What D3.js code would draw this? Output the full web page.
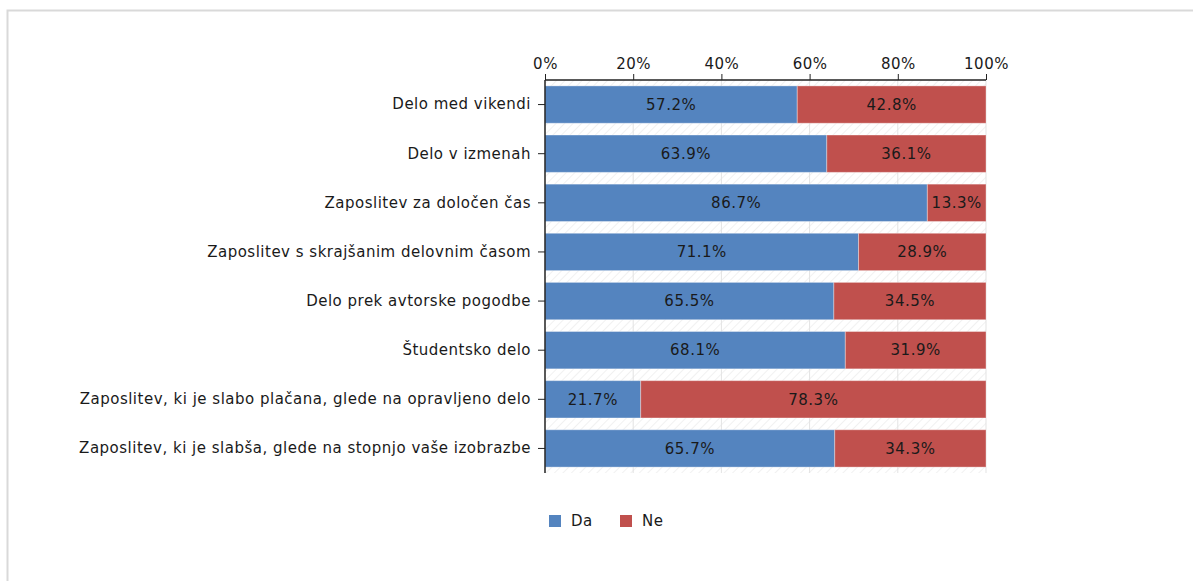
<!DOCTYPE html>
<html>
<head>
<meta charset="utf-8">
<script src="https://cdn.jsdelivr.net/npm/d3@7"></script>
<style>
  body { margin: 0; background: #fff; }
  svg { font-family: "DejaVu Sans", sans-serif; }
  svg text { font-size: 15px; letter-spacing: 0.5px; }
</style>
</head>
<body>
<svg width="1193" height="581"></svg>
<script>
var categories = [
  "Delo med vikendi",
  "Delo v izmenah",
  "Zaposlitev za določen čas",
  "Zaposlitev s skrajšanim delovnim časom",
  "Delo prek avtorske pogodbe",
  "Študentsko delo",
  "Zaposlitev, ki je slabo plačana, glede na opravljeno delo",
  "Zaposlitev, ki je slabša, glede na stopnjo vaše izobrazbe"
];
var da = [57.2, 63.9, 86.7, 71.1, 65.5, 68.1, 21.7, 65.7];
var ne = [42.8, 36.1, 13.3, 28.9, 34.5, 31.9, 78.3, 34.3];
var seriesNames = ["Da", "Ne"];
var colors = ["#5484bf", "#c0504d"];
var ticks = [0, 20, 40, 60, 80, 100];

var svg = d3.select("svg");

// outer frame
svg.append("rect")
    .attr("x", 7.5).attr("y", 10.5)
    .attr("width", 1200).attr("height", 600)
    .attr("fill", "none")
    .attr("stroke", "#d9d9d9")
    .attr("stroke-width", 2);

var pLeft = 545, pRight = 986, pTop = 80, pBottom = 473;

var x = d3.scaleLinear().domain([0, 100]).range([pLeft, pRight]);
var y = d3.scaleBand().domain(categories).range([pTop, pBottom]).paddingInner(0.24).paddingOuter(0.12);

// hatch background
var defs = svg.append("defs");
var pat = defs.append("pattern")
    .attr("id", "hatch")
    .attr("patternUnits", "userSpaceOnUse")
    .attr("width", 6).attr("height", 6)
    .attr("patternTransform", "rotate(45)");
pat.append("line")
    .attr("x1", 0).attr("y1", 0).attr("x2", 0).attr("y2", 6)
    .attr("stroke", "#ececec").attr("stroke-width", 1.5);

svg.append("rect")
    .attr("x", pLeft).attr("y", pTop)
    .attr("width", pRight - pLeft).attr("height", pBottom - pTop)
    .attr("fill", "url(#hatch)");

// grid lines
svg.append("g")
  .selectAll("line")
  .data(ticks.slice(1))
  .enter().append("line")
    .attr("x1", function(d) { return x(d); })
    .attr("x2", function(d) { return x(d); })
    .attr("y1", pTop).attr("y2", pBottom)
    .attr("stroke", "#e3e3e3");

// stacked data
var rows = categories.map(function(c, i) { return { cat: c, Da: da[i], Ne: ne[i] }; });
var stack = d3.stack().keys(seriesNames)(rows);

var layers = svg.append("g")
  .selectAll("g")
  .data(stack)
  .enter().append("g")
    .attr("fill", function(d, i) { return colors[i]; });

layers.selectAll("rect")
  .data(function(d) { return d; })
  .enter().append("rect")
    .attr("x", function(d) { return x(d[0]); })
    .attr("y", function(d) { return y(d.data.cat); })
    .attr("width", function(d) { return x(d[1]) - x(d[0]); })
    .attr("height", y.bandwidth())
    .attr("stroke", "rgba(255,255,255,0.35)")
    .attr("stroke-width", 1);

layers.selectAll("text")
  .data(function(d) { return d; })
  .enter().append("text")
    .attr("x", function(d) { return (x(d[0]) + x(d[1])) / 2; })
    .attr("y", function(d) { return y(d.data.cat) + y.bandwidth() / 2; })
    .attr("dy", "0.35em")
    .attr("text-anchor", "middle")
    .attr("fill", "#1a1a1a")
    .text(function(d) { return (d[1] - d[0]).toFixed(1) + "%"; });

// axes
var xAxis = svg.append("g")
    .attr("transform", "translate(0," + pTop + ")")
    .call(d3.axisTop(x).tickValues(ticks).tickSize(6).tickSizeOuter(0)
      .tickFormat(function(d) { return d + "%"; }));
xAxis.select(".domain").attr("stroke", "#222").attr("stroke-width", 1.5)
    .attr("d", "M" + pLeft + ",0H" + pRight);
xAxis.selectAll(".tick line").attr("stroke", "#222");
xAxis.selectAll(".tick text").attr("y", -11).attr("fill", "#1a1a1a")
    .style("font-size", "15px").style("font-family", "DejaVu Sans");

var yAxis = svg.append("g")
    .attr("transform", "translate(" + pLeft + ",0)")
    .call(d3.axisLeft(y).tickSize(7).tickPadding(7));
yAxis.select(".domain").attr("stroke", "#222").attr("stroke-width", 1.5)
    .attr("d", "M0," + pTop + "V" + pBottom);
yAxis.selectAll(".tick line").attr("stroke", "#222");
yAxis.selectAll(".tick text").attr("fill", "#1a1a1a")
    .style("font-size", "15px").style("font-family", "DejaVu Sans");

// legend
var legend = svg.append("g")
    .attr("transform", "translate(549,515)");
var li = legend.selectAll("g")
  .data(seriesNames)
  .enter().append("g")
    .attr("transform", function(d, i) { return "translate(" + (i * 71) + ",0)"; });
li.append("rect")
    .attr("width", 12).attr("height", 12)
    .attr("fill", function(d, i) { return colors[i]; });
li.append("text")
    .attr("x", 22).attr("y", 6).attr("dy", "0.35em")
    .attr("fill", "#1a1a1a")
    .text(function(d) { return d; });
</script>
</body>
</html>
